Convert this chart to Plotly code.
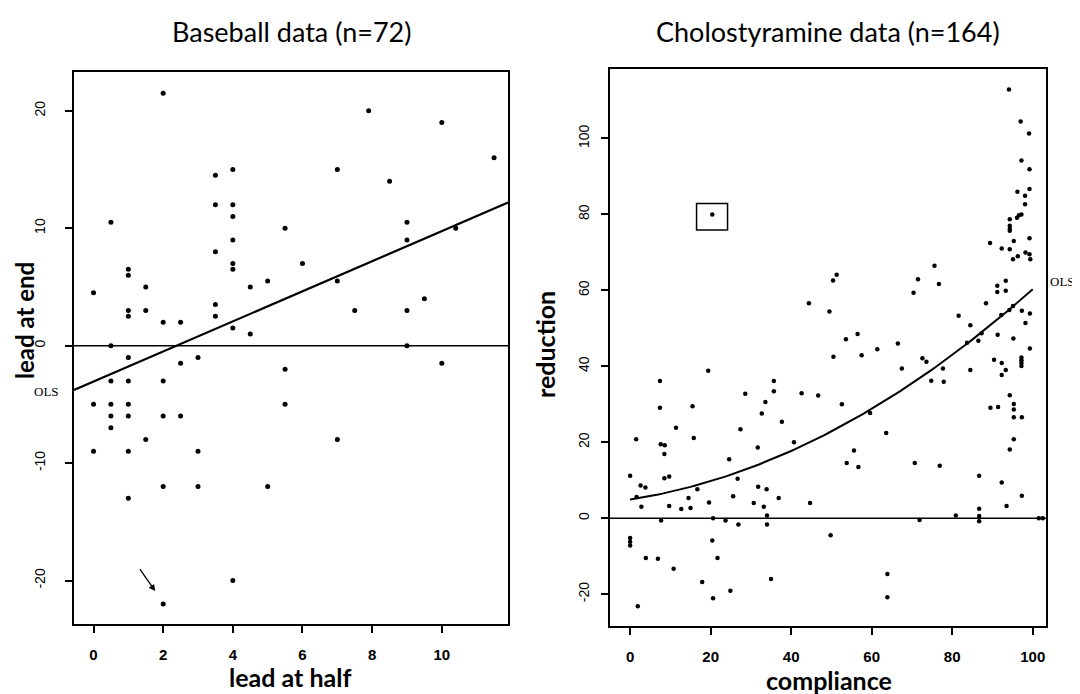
import plotly.graph_objects as go

# ---------------- Baseball data (n=72) ----------------
bb_half = [2, 0.5, 3.5, 4, 3.5, 4, 4, 4, 3.5, 4, 4, 5.5, 6, 1, 1, 1.5, 0, 1, 1, 1.5,
           2, 2.5, 3.5, 3.5, 4, 4.5, 5, 4.5, 0.5, 1, 3, 7.9, 10, 11.5, 7, 8.5, 9, 9,
           10.4, 7, 7.5, 9, 9.5, 9, 2.5, 5.5, 0.5, 1, 2, 0, 0.5, 1, 5.5, 0.5, 1, 2,
           2.5, 0.5, 1.5, 0, 1, 3, 2, 3, 5, 1, 4, 2, 7, 10]
bb_end = [21.5, 10.5, 14.5, 15, 12, 12, 11, 9, 8, 7, 6.5, 10, 7, 6.5, 6, 5, 4.5, 3, 2.5, 3,
          2, 2, 3.5, 2.5, 1.5, 5, 5.5, 1, 0, -1, -1, 20, 19, 16, 15, 14, 10.5, 9,
          10, 5.5, 3, 3, 4, 0, -1.5, -2, -3, -3, -3, -5, -5, -5, -5, -6, -6, -6,
          -6, -7, -8, -9, -9, -9, -12, -12, -12, -13, -20, -22, -8, -1.5]
bb_ols = [-3.05, 1.28]          # intercept, slope
bb_arrow_tail = [1.3, -18.9]
bb_arrow_head = [1.77, -20.9]
bb_xticks = [0, 2, 4, 6, 8, 10]
bb_yticks = [-20, -10, 0, 10, 20]
bb_xrange = [-0.56, 11.9]
bb_yrange = [-23.7, 23.3]

# ---------------- Cholostyramine data (n=164) ----------------
ch_comp = [0, 1.5, 1.6, 2.6, 3.8, 2.8, 7.4, 7.4, 7.6, 8.6, 8.5, 8.5, 9.7, 9.7, 7.7, 11.4,
           15.5, 15.8, 14.5, 15.0, 12.7, 16.7, 19.4, 19.6, 20.6, 20.4, 21.7, 20.6, 17.9,
           24.9, 24.6, 23.7, 26.7, 25.6, 26.9, 27.4, 28.6, 30.7, 31.7, 31.8, 32.7, 33.2,
           33.6, 33.9, 34.0, 34.0, 35.7, 35.7, 37.7, 36.9, 35.0, 40.7, 42.6, 44.7, 0, 0,
           0, 3.9, 6.9, 10.8, 1.9,
           51.3, 50.4, 44.4, 49.5, 53.6, 56.5, 50.5, 57.5, 61.4, 66.5, 46.7, 52.6, 59.6,
           63.6, 55.6,
           67.5, 74.8, 77.7, 77.9, 84.5, 53.8, 56.7, 70.7, 76.9, 49.8, 71.9, 80.9, 86.7,
           86.7, 86.7, 86.7, 63.9, 63.9, 92.3, 93.5, 97.3, 89.5, 91.4, 94.3, 95.3, 95.3,
           95.3, 97.3, 95.3, 94.3, 101.5, 102.5,
           75.6, 71.5, 76.7, 70.4, 81.6, 84.5, 88.4, 83.7, 86.5, 87.3, 91.2, 91.2, 93.3,
           93.3, 94.2, 95.1, 92.2, 97.3, 99.3, 98.2, 95.2, 99.3, 91.3, 90.4, 92.3, 93.3,
           92.3, 97.2, 97.2, 97.2, 97.2, 72.6, 73.6,
           94.1, 97.0, 99.1, 97.2, 99.2, 96.2, 99.2, 98.1, 98.1, 96.1, 96.6, 97.2, 94.3,
           94.3, 94.3, 94.3, 99.2, 89.4, 95.3, 92.3, 94.3, 96.3, 95.1, 98.2, 99.2, 99.4]
ch_red = [11.2, 20.8, 5.6, 8.6, 8.1, 3.0, 36.1, 29.1, 19.5, 19.2, 16.9, 10.5, 11.0, 3.2, -0.6,
          23.8, 29.5, 21.1, 5.3, 2.7, 2.4, 7.6, 38.8, 4.1, 0.0, -5.9, -10.5, -21.1, -16.8,
          -19.1, 15.5, -0.6, 10.4, 5.8, -1.7, 23.4, 32.8, 4.0, 18.6, 8.3, 27.6, 3.0, 30.6,
          7.6, 0.7, -1.7, 36.1, 33.4, 25.4, 5.3, -16.0, 20.0, 32.9, 4.0, -5.2, -6.2, -7.2,
          -10.5, -10.7, -13.3, -23.2,
          64.1, 62.6, 56.6, 54.4, 47.1, 48.5, 42.5, 42.9, 44.5, 46.0, 32.3, 30.0, 27.7,
          22.4, 17.8,
          39.4, 36.2, 39.4, 35.9, 39.0, 14.5, 13.5, 14.5, 13.8, -4.5, -0.5, 0.7, 11.2, 2.5,
          0.6, -0.8, -14.7, -20.8, 9.4, 3.2, 5.9, 29.1, 29.3, 32.4, 30.1, 28.6, 26.6, 26.6,
          20.8, 18.1, 0.0, 0.0,
          66.5, 62.9, 61.7, 59.4, 53.3, 50.8, 56.6, 46.2, 46.7, 48.7, 61.2, 59.6, 62.5,
          59.9, 54.8, 55.9, 53.5, 54.6, 53.9, 51.4, 47.3, 44.7, 48.3, 41.7, 40.9, 39.0,
          37.7, 42.3, 41.6, 40.9, 40.1, 42.1, 41.2,
          112.9, 104.5, 101.3, 94.2, 91.9, 86.0, 86.7, 84.9, 82.7, 79.1, 79.8, 80.0, 78.7,
          77.0, 76.2, 75.7, 73.7, 72.5, 73.0, 71.0, 70.8, 69.0, 68.2, 70.0, 69.5, 68.2]
ch_outlier = [20.4, 80.0]
ch_ols = [4.9, 0.164, 0.0039]   # quadratic OLS fit coefficients
ch_xticks = [0, 20, 40, 60, 80, 100]
ch_yticks = [-20, 0, 20, 40, 60, 80, 100]
ch_xrange = [-5.0, 103.3]
ch_yrange = [-28.4, 118.3]

# page body has an 8px margin; size the figure so it fills the window exactly
OFF = 8
W, H = 1080 - OFF, 694 - OFF


def PX(px):
    return (px - OFF) / W


def PY(py):
    return 1 - (py - OFF) / H


fig = go.Figure()

# left panel
fig.add_trace(go.Scatter(x=bb_half, y=bb_end, mode="markers",
                         marker=dict(color="black", size=5, symbol="circle"),
                         xaxis="x", yaxis="y", showlegend=False))
fig.add_trace(go.Scatter(x=bb_xrange, y=[0, 0], mode="lines",
                         line=dict(color="black", width=1.5),
                         xaxis="x", yaxis="y", showlegend=False))
ols_x = list(bb_xrange)
ols_y = [bb_ols[0] + bb_ols[1] * v for v in ols_x]
fig.add_trace(go.Scatter(x=ols_x, y=ols_y, mode="lines",
                         line=dict(color="black", width=2.2),
                         xaxis="x", yaxis="y", showlegend=False))

# right panel
fig.add_trace(go.Scatter(x=ch_comp + [ch_outlier[0]], y=ch_red + [ch_outlier[1]],
                         mode="markers", marker=dict(color="black", size=4.5, symbol="circle"),
                         xaxis="x2", yaxis="y2", showlegend=False))
fig.add_trace(go.Scatter(x=ch_xrange, y=[0, 0], mode="lines",
                         line=dict(color="black", width=1.5),
                         xaxis="x2", yaxis="y2", showlegend=False))
cx = [i for i in range(0, 101)]
cy = [ch_ols[0] + ch_ols[1] * v + ch_ols[2] * v * v for v in cx]
fig.add_trace(go.Scatter(x=cx, y=cy, mode="lines",
                         line=dict(color="black", width=2),
                         xaxis="x2", yaxis="y2", showlegend=False))

ytickf = dict(family="Liberation Sans", size=14, color="black")
xtickf = dict(family="Liberation Sans", size=15, color="black", weight="bold")
axcommon = dict(showline=True, mirror=True, linecolor="black", linewidth=2,
                ticks="outside", ticklen=7, tickwidth=2, tickcolor="black",
                showgrid=False, zeroline=False, tickmode="array")

fig.update_layout(
    width=W, height=H, autosize=False,
    margin=dict(l=0, r=0, t=0, b=0),
    paper_bgcolor="white", plot_bgcolor="white",
    xaxis=dict(domain=[PX(74), PX(508)], range=bb_xrange, tickvals=bb_xticks,
               ticktext=[str(v) for v in bb_xticks], anchor="y",
               tickfont=xtickf, ticklabelstandoff=9, **axcommon),
    yaxis=dict(domain=[PY(624), PY(72)], range=bb_yrange, tickvals=bb_yticks,
               ticktext=[str(v) for v in bb_yticks], anchor="x", tickangle=-90,
               tickfont=ytickf, ticklabelstandoff=14, **axcommon),
    xaxis2=dict(domain=[PX(610), PX(1046)], range=ch_xrange, tickvals=ch_xticks,
                ticktext=[str(v) for v in ch_xticks], anchor="y2",
                tickfont=xtickf, ticklabelstandoff=9, **axcommon),
    yaxis2=dict(domain=[PY(626), PY(69)], range=ch_yrange, tickvals=ch_yticks,
                ticktext=[str(v) for v in ch_yticks], anchor="x2", tickangle=-90,
                tickfont=ytickf, ticklabelstandoff=6, **axcommon),
)

titlef = dict(family="Lato", size=27, color="black")
labf = dict(family="Lato", size=25, color="black", weight="bold")
labf_l = dict(family="Lato", size=24, color="black", weight="bold")
olsf = dict(family="Liberation Serif", size=13, color="black")
ann = [
    dict(text="Baseball data (n=72)", x=PX(291), y=PY(32), font=titlef),
    dict(text="Cholostyramine data (n=164)", x=PX(828), y=PY(32), font=titlef),
    dict(text="lead at end", x=PX(24), y=PY(321), textangle=-90, font=labf_l),
    dict(text="lead at half", x=PX(290), y=PY(677), font=labf),
    dict(text="reduction", x=PX(545), y=PY(345), textangle=-90, font=labf),
    dict(text="compliance", x=PX(829), y=PY(680), font=labf),
    dict(text="OLS", x=PX(46), y=PY(391), font=olsf),
    dict(text="OLS", x=PX(1062), y=PY(281), font=olsf),
]
for a in ann:
    a.update(xref="paper", yref="paper", showarrow=False, xanchor="center", yanchor="middle")
fig.update_layout(annotations=ann)

fig.add_annotation(x=bb_arrow_head[0], y=bb_arrow_head[1], ax=bb_arrow_tail[0], ay=bb_arrow_tail[1],
                   xref="x", yref="y", axref="x", ayref="y", text="", showarrow=True,
                   arrowhead=2, arrowsize=1, arrowwidth=1.3, arrowcolor="black")

fig.add_shape(type="rect", xref="x2", yref="y2",
              x0=ch_outlier[0] - 3.9, x1=ch_outlier[0] + 3.8,
              y0=ch_outlier[1] - 4.1, y1=ch_outlier[1] + 2.9,
              line=dict(color="black", width=1.5))

fig.write_html("out.html")
